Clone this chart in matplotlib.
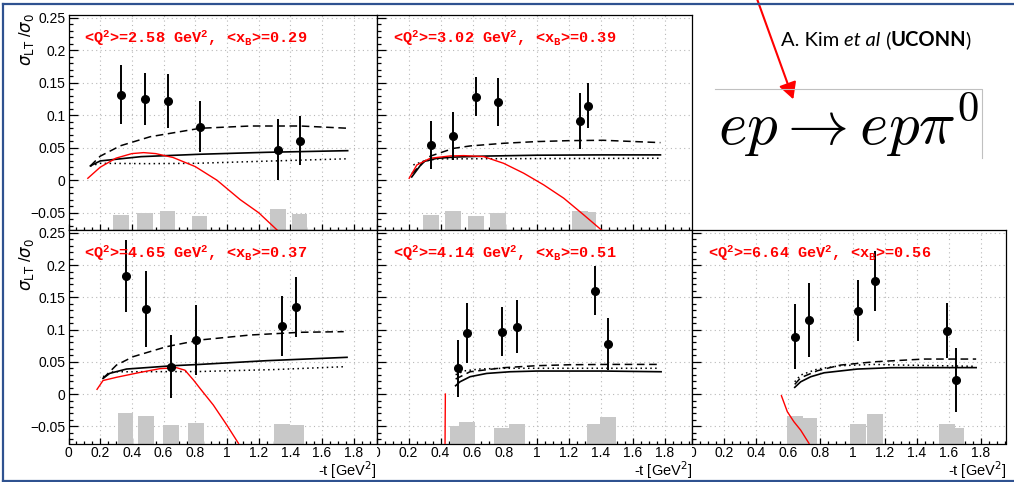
import matplotlib
matplotlib.use("Agg")
import matplotlib.pyplot as plt
from matplotlib.ticker import MultipleLocator, FuncFormatter
from matplotlib.transforms import Bbox, TransformedBbox
from matplotlib.lines import Line2D
from matplotlib.patches import FancyArrowPatch

plt.rcParams["font.family"] = ["Liberation Sans", "DejaVu Sans"]
plt.rcParams["mathtext.fontset"] = "custom"
plt.rcParams["mathtext.rm"] = "Liberation Mono:bold"
plt.rcParams["mathtext.it"] = "Liberation Mono:bold"
plt.rcParams["mathtext.bf"] = "Liberation Mono:bold"

# ---------------- kinematic bins ----------------
bin_labels = [
    r"<Q$^2$>=2.58 GeV$^2$, <x$_B$>=0.29",
    r"<Q$^2$>=3.02 GeV$^2$, <x$_B$>=0.39",
    r"<Q$^2$>=4.65 GeV$^2$, <x$_B$>=0.37",
    r"<Q$^2$>=4.14 GeV$^2$, <x$_B$>=0.51",
    r"<Q$^2$>=6.64 GeV$^2$, <x$_B$>=0.56",
]

# ---------------- measured sigma_LT / sigma_0 ----------------
t_1 = [0.33, 0.484, 0.625, 0.827, 1.322, 1.458]
sig_1 = [0.132, 0.125, 0.122, 0.0825, 0.0466, 0.061]
err_1 = [0.046, 0.040, 0.042, 0.039, 0.047, 0.038]
sys_1 = [0.0226, 0.0262, 0.030, 0.0216, 0.033, 0.024]

t_2 = [0.34, 0.475, 0.621, 0.756, 1.271, 1.319]
sig_2 = [0.0543, 0.0677, 0.1286, 0.120, 0.0912, 0.1148]
err_2 = [0.037, 0.037, 0.030, 0.037, 0.043, 0.035]
sys_2 = [0.0237, 0.0288, 0.0221, 0.0267, 0.0288, 0.0280]

t_3 = [0.36, 0.487, 0.649, 0.803, 1.347, 1.434]
sig_3 = [0.183, 0.1325, 0.0424, 0.0843, 0.1056, 0.135]
err_3 = [0.056, 0.059, 0.049, 0.054, 0.047, 0.046]
sys_3 = [0.0476, 0.0426, 0.0286, 0.0316, 0.030, 0.029]

t_4 = [0.51, 0.5625, 0.785, 0.877, 1.362, 1.446]
sig_4 = [0.0399, 0.0952, 0.0968, 0.1045, 0.1604, 0.0776]
err_4 = [0.044, 0.0466, 0.0375, 0.041, 0.038, 0.040]
sys_4 = [0.0269, 0.0336, 0.0236, 0.030, 0.0296, 0.0406]

t_5 = [0.64, 0.729, 1.035, 1.141, 1.59, 1.642]
sig_5 = [0.089, 0.115, 0.1294, 0.1755, 0.0983, 0.0217]
err_5 = [0.050, 0.058, 0.047, 0.046, 0.043, 0.050]
sys_5 = [0.0424, 0.0388, 0.030, 0.045, 0.0296, 0.0243]

# ---------------- model curves ----------------
solid_t_1 = [0.138, 0.2, 0.458, 0.831, 1.252, 1.762]
solid_1 = [0.022, 0.0297, 0.0363, 0.040, 0.043, 0.0455]
dash_t_1 = [0.138, 0.2, 0.327, 0.516, 0.831, 1.147, 1.463, 1.767]
dash_1 = [0.022, 0.037, 0.053, 0.067, 0.080, 0.0835, 0.0835, 0.080]
dot_t_1 = [0.138, 0.2, 0.5, 0.8, 1.2, 1.76]
dot_1 = [0.022, 0.026, 0.0255, 0.026, 0.029, 0.033]
red_t_1 = [0.122, 0.2, 0.3, 0.4, 0.474, 0.55, 0.66, 0.8, 0.937, 1.084, 1.2, 1.316]
red_1 = [0.003, 0.020, 0.034, 0.041, 0.0425, 0.041, 0.035, 0.021, 0.0, -0.030, -0.050, -0.0766]

solid_t_2 = [0.22, 0.292, 0.375, 0.48, 0.688, 1.0, 1.415, 1.773]
solid_2 = [0.005, 0.0287, 0.0336, 0.0356, 0.0372, 0.0385, 0.039, 0.039]
dash_t_2 = [0.22, 0.335, 0.48, 0.585, 0.794, 1.0, 1.21, 1.415, 1.773]
dash_2 = [0.010, 0.037, 0.049, 0.0528, 0.0569, 0.0595, 0.061, 0.0615, 0.0579]
dot_t_2 = [0.23, 0.292, 0.375, 0.585, 1.0, 1.773]
dot_2 = [0.0236, 0.029, 0.0328, 0.033, 0.0333, 0.0338]
red_t_2 = [0.204, 0.252, 0.335, 0.46, 0.544, 0.669, 0.794, 0.919, 1.044, 1.169, 1.294, 1.404]
red_2 = [0.003, 0.0235, 0.0338, 0.0374, 0.0379, 0.0364, 0.026, 0.0108, -0.0072, -0.0277, -0.0534, -0.0766]

solid_t_3 = [0.218, 0.26, 0.366, 0.514, 0.662, 0.83, 1.252, 1.758]
solid_3 = [0.0243, 0.0321, 0.0388, 0.0414, 0.044, 0.046, 0.0518, 0.057]
dash_t_3 = [0.218, 0.303, 0.408, 0.619, 0.83, 1.147, 1.463, 1.737]
dash_3 = [0.0243, 0.045, 0.058, 0.0735, 0.0839, 0.0916, 0.0958, 0.0968]
dot_t_3 = [0.218, 0.282, 0.408, 0.83, 1.3, 1.737]
dot_3 = [0.027, 0.0346, 0.0346, 0.0350, 0.038, 0.0424]
red_t_3 = [0.18, 0.218, 0.303, 0.45, 0.577, 0.682, 0.735, 0.788, 0.83, 0.914, 0.999, 1.073]
red_3 = [0.0073, 0.021, 0.026, 0.0335, 0.0394, 0.0409, 0.037, 0.022, 0.0088, -0.017, -0.048, -0.0766]

solid_t_4 = [0.494, 0.521, 0.584, 0.688, 0.834, 1.0, 1.417, 1.777]
solid_4 = [0.0129, 0.019, 0.0269, 0.032, 0.0346, 0.0357, 0.0357, 0.0346]
dash_t_4 = [0.494, 0.584, 0.793, 1.0, 1.21, 1.45, 1.76]
dash_4 = [0.0233, 0.0346, 0.0409, 0.044, 0.0455, 0.046, 0.046]
dot_t_4 = [0.494, 0.55, 0.65, 0.8, 1.0, 1.4, 1.77]
dot_4 = [0.030, 0.036, 0.039, 0.040, 0.040, 0.040, 0.040]
red_t_4 = [0.428, 0.429, 0.430]
red_4 = [-0.0766, -0.035, 0.0]

solid_t_5 = [0.64, 0.677, 0.74, 0.823, 1.03, 1.238, 1.445, 1.77]
solid_5 = [0.0104, 0.019, 0.0269, 0.033, 0.0388, 0.0409, 0.041, 0.041]
dash_t_5 = [0.64, 0.677, 0.781, 0.926, 1.133, 1.445, 1.77]
dash_5 = [0.015, 0.0253, 0.0362, 0.045, 0.050, 0.0543, 0.0543]
dot_t_5 = [0.64, 0.677, 0.781, 0.926, 1.133, 1.3, 1.77]
dot_5 = [0.019, 0.0295, 0.0388, 0.044, 0.046, 0.045, 0.043]
red_t_5 = [0.557, 0.594, 0.635, 0.677, 0.729]
red_5 = [-0.0026, -0.0275, -0.043, -0.056, -0.0766]

panels = [
    (t_1, sig_1, err_1, sys_1, solid_t_1, solid_1, dash_t_1, dash_1, dot_t_1, dot_1, red_t_1, red_1),
    (t_2, sig_2, err_2, sys_2, solid_t_2, solid_2, dash_t_2, dash_2, dot_t_2, dot_2, red_t_2, red_2),
    (t_3, sig_3, err_3, sys_3, solid_t_3, solid_3, dash_t_3, dash_3, dot_t_3, dot_3, red_t_3, red_3),
    (t_4, sig_4, err_4, sys_4, solid_t_4, solid_4, dash_t_4, dash_4, dot_t_4, dot_4, red_t_4, red_4),
    (t_5, sig_5, err_5, sys_5, solid_t_5, solid_5, dash_t_5, dash_5, dot_t_5, dot_5, red_t_5, red_5),
]

# pad boxes in pixels: left, top, right, bottom, upper t limit
W, H = 1014, 482
boxes = [
    (68.5, 15, 376.5, 230, 1.944),
    (376.5, 15, 692, 230, 1.97),
    (68.5, 230, 376.5, 443.5, 1.944),
    (376.5, 230, 692, 443.5, 1.97),
    (692, 230, 1006, 443.5, 1.956),
]
YMIN, YMAX = -0.0767, 0.2545

fig = plt.figure(figsize=(W / 100, H / 100), dpi=100)


def fx(px):
    return px / W


def fy(py):
    return 1 - py / H


def num_fmt(v, pos):
    if abs(v) < 1e-9:
        return "0"
    s = f"{v:g}"
    return s.replace("-", "\u2212")


for i, (box, data, lab) in enumerate(zip(boxes, panels, bin_labels)):
    left, top, right, bottom, xmax = box
    (t, sig, err, sys_, st, sv, dt, dv, ot, ov, rt, rv) = data
    ax = fig.add_axes([fx(left), fy(bottom), (right - left) / W, (bottom - top) / H])
    ax.set_xlim(0, xmax)
    ax.set_ylim(YMIN, YMAX)
    ax.xaxis.set_major_locator(MultipleLocator(0.2))
    ax.xaxis.set_minor_locator(MultipleLocator(0.05))
    ax.yaxis.set_major_locator(MultipleLocator(0.05))
    ax.yaxis.set_minor_locator(MultipleLocator(0.01))
    ax.xaxis.set_major_formatter(FuncFormatter(num_fmt))
    ax.yaxis.set_major_formatter(FuncFormatter(num_fmt))
    ax.tick_params(which="major", axis="y", direction="in", length=6.5, width=0.9,
                   labelsize=10, pad=2)
    ax.tick_params(which="minor", axis="y", direction="in", length=3.2, width=0.9)
    ax.tick_params(which="major", axis="x", direction="in", length=4.5, width=0.9,
                   labelsize=10, pad=1.5)
    ax.tick_params(which="minor", axis="x", direction="in", length=2.3, width=0.9)
    ax.grid(True, which="major", linestyle=(0, (1, 3)), color="#b8b8b8", linewidth=0.8)
    ax.set_axisbelow(True)
    for sp in ax.spines.values():
        sp.set_linewidth(0.9)
        sp.set_color("black")
    if i not in (0, 2):
        ax.tick_params(axis="y", labelleft=False)
    if i in (0, 1):
        ax.tick_params(axis="x", labelbottom=False)

    # systematic uncertainty bands
    ax.bar(t, sys_, width=0.1, bottom=YMIN, color="#c8c8c8", zorder=1.5)
    # model curves
    ax.plot(ot, ov, color="black", lw=1.1, linestyle=(0, (1, 2.2)), zorder=3)
    ax.plot(dt, dv, color="black", lw=1.1, linestyle=(0, (5, 3)), zorder=3)
    ax.plot(st, sv, color="black", lw=1.2, zorder=3)
    ax.plot(rt, rv, color="#ff0000", lw=1.0, zorder=3.5, clip_on=True)
    # data
    ax.errorbar(t, sig, yerr=err, fmt="o", color="black", ms=5.5, elinewidth=1.4,
                capsize=0, zorder=5)

    ax.text(0.1, 1 - 28 / (bottom - top), lab, transform=ax.get_xaxis_transform(),
            color="#ff0000", fontsize=11, family="Liberation Mono", fontweight="bold",
            va="baseline", ha="left", zorder=6)

    if i in (3, 4):
        clip = TransformedBbox(Bbox.from_extents(fx(left), 0, fx(right), 1), fig.transFigure)
        for tl in ax.get_xticklabels():
            tl.set_clip_on(True)
            tl.set_clip_box(clip)

    if i >= 2:
        fig.text(fx(right), fy(476), "-t [GeV$^2$]", ha="right", va="baseline",
                 fontsize=10.5, math_fontfamily="dejavusans")

# y axis titles
for ytop in (13, 238):
    fig.text(fx(27), fy(ytop), r"$\sigma_{\mathrm{LT}}$ /$\sigma_{0}$", rotation=90,
             ha="center", va="top", fontsize=12, math_fontfamily="dejavusans")

# slide frame
frame_col = "#2f5290"
fig.add_artist(Line2D([fx(3), 1], [fy(4), fy(4)], color=frame_col, lw=1.6,
                      transform=fig.transFigure))
fig.add_artist(Line2D([fx(3), fx(3)], [fy(4), fy(480.5)], color=frame_col, lw=1.6,
                      transform=fig.transFigure))
fig.add_artist(Line2D([fx(3), 1], [fy(480.5), fy(480.5)], color=frame_col, lw=1.6,
                      transform=fig.transFigure))

# box around the reaction
fig.add_artist(Line2D([fx(715), fx(981.7), fx(981.7)], [fy(89.3), fy(89.3), fy(158)],
                      color="#c0c0c0", lw=0.8, transform=fig.transFigure))
fig.text(fx(718), fy(145), r"$ep \rightarrow ep\pi^0$", fontsize=44,
         math_fontfamily="cm", ha="left", va="baseline")

# author line with mixed styles
renderer = fig.canvas.get_renderer()
x_cur = 781.0
for piece, style, weight in [("A. Kim ", "normal", "normal"), ("et al", "italic", "normal"),
                             (" (", "normal", "normal"), ("UCONN", "normal", "bold"),
                             (")", "normal", "normal")]:
    txt = fig.text(fx(x_cur), fy(46), piece, fontsize=14.5, fontstyle=style,
                   fontweight=weight, family="Lato", ha="left", va="baseline")
    bb = txt.get_window_extent(renderer)
    x_cur += bb.width - (1.5 if piece == "UCONN" else 0)

# red pointer arrow
arrow = FancyArrowPatch((fx(756.7), fy(-2)), (fx(793.3), fy(99.3)),
                        arrowstyle="-|>,head_length=0.5,head_width=0.27",
                        mutation_scale=20, color="#ff0000", lw=1.5,
                        shrinkA=0, shrinkB=0, transform=fig.transFigure)
fig.add_artist(arrow)

fig.savefig("out.png", dpi=100)
